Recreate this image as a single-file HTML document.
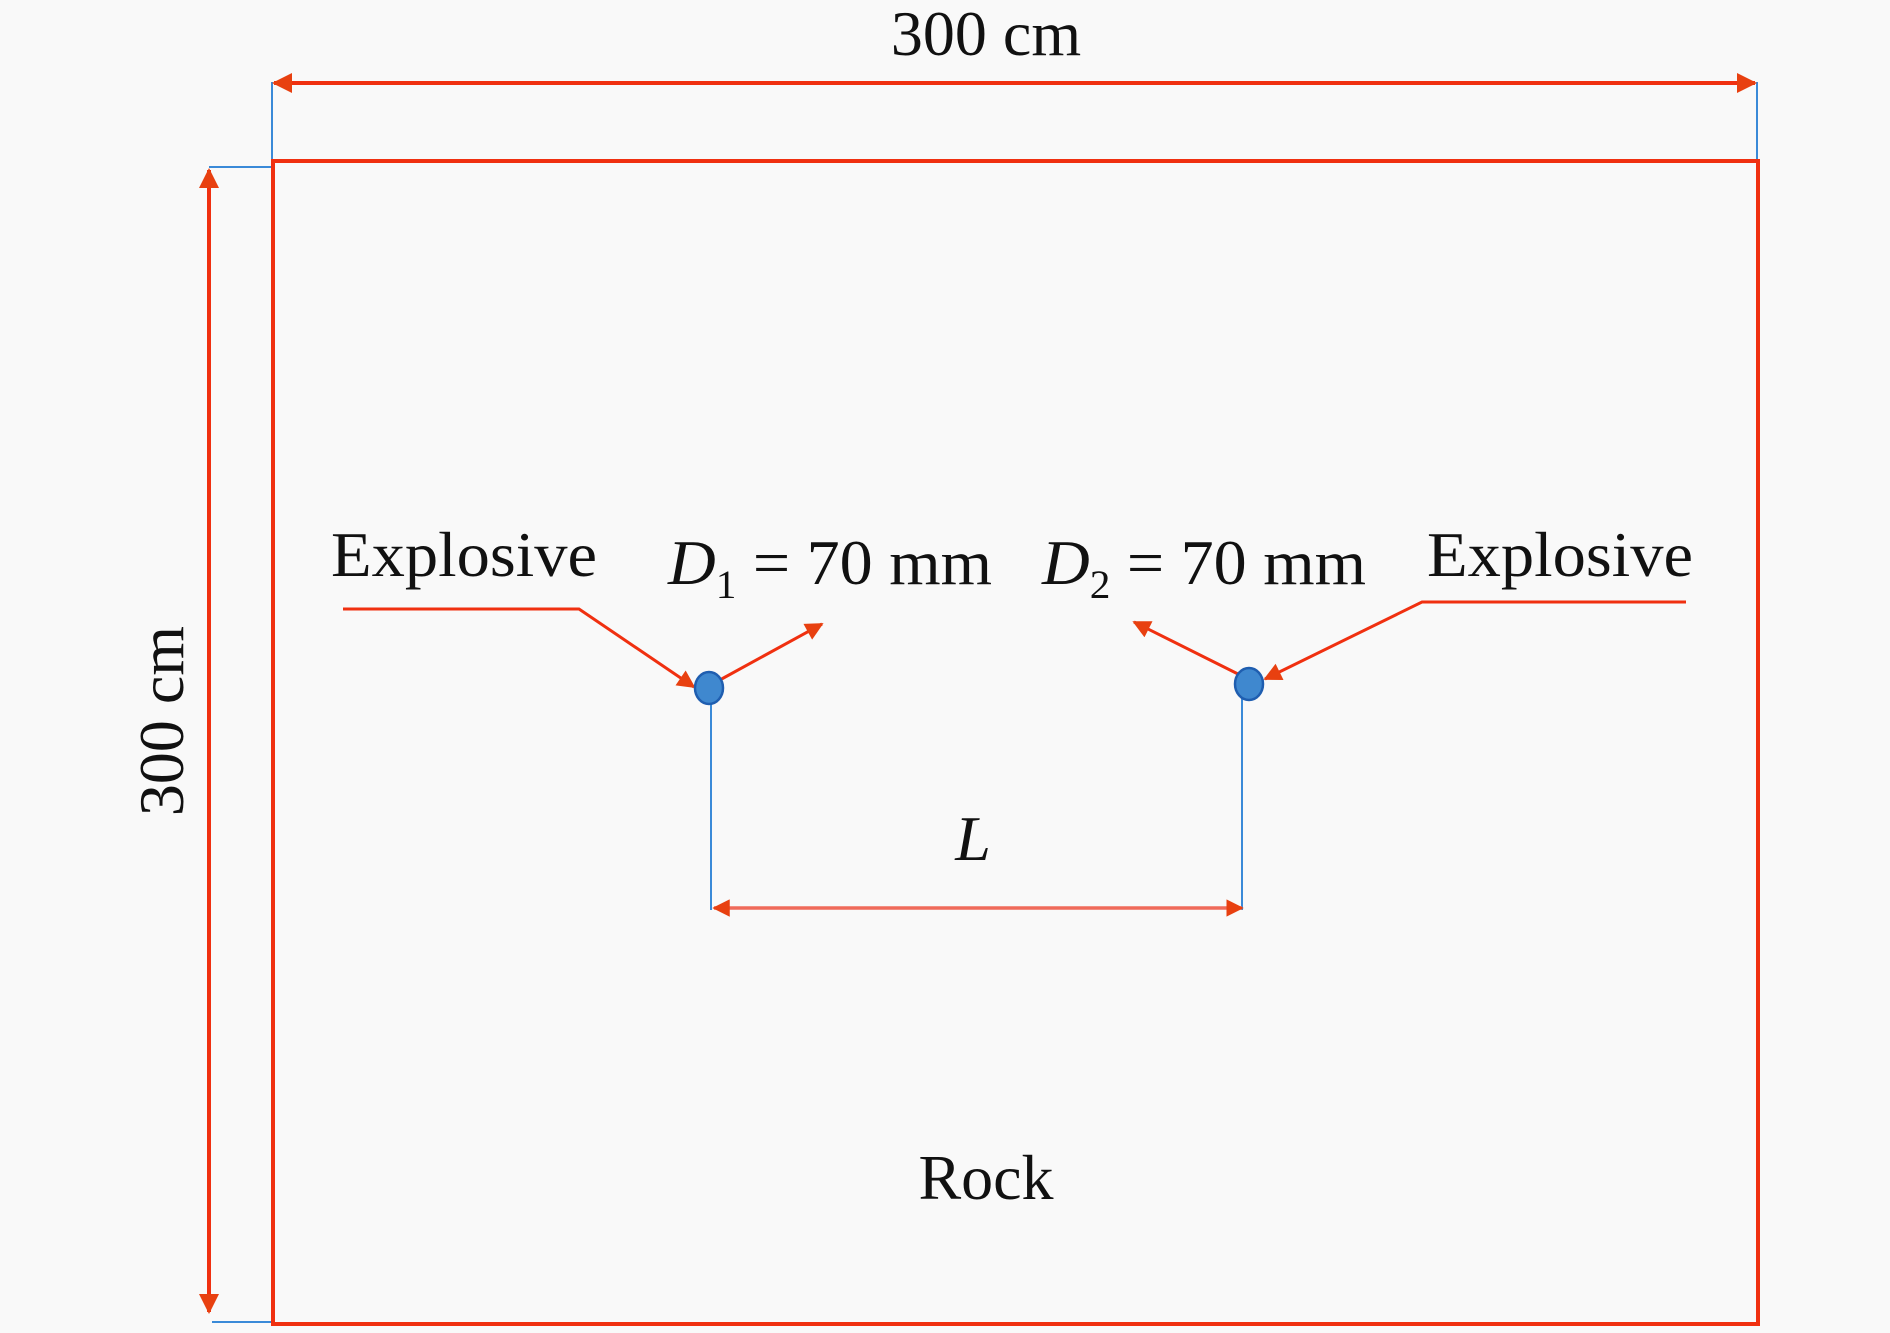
<!DOCTYPE html>
<html><head><meta charset="utf-8"><style>
html,body{margin:0;padding:0;background:#f9f9f9;}
svg{display:block;}
text{font-family:"Liberation Serif",serif;fill:#111;}
</style></head><body>
<svg width="1890" height="1333" viewBox="0 0 1890 1333" xmlns="http://www.w3.org/2000/svg">
<defs>
<marker id="ah" viewBox="0 0 10 10" refX="9" refY="5" markerWidth="5" markerHeight="5" orient="auto-start-reverse" markerUnits="strokeWidth">
<path d="M0,0 L10,5 L0,10 z" fill="#e84010"/>
</marker>
<marker id="ah2" viewBox="0 0 10 10" refX="9" refY="5" markerWidth="7" markerHeight="6" orient="auto-start-reverse" markerUnits="strokeWidth">
<path d="M0,0 L10,5 L0,10 z" fill="#e84010"/>
</marker>
</defs>
<rect width="1890" height="1333" fill="#f9f9f9"/>
<g stroke="#3a8ad8" stroke-width="2" fill="none">
<line x1="272" y1="82" x2="272" y2="160"/>
<line x1="1757" y1="82" x2="1757" y2="160"/>
<line x1="209" y1="167" x2="272" y2="167"/>
<line x1="212" y1="1322" x2="272" y2="1322"/>
<line x1="711" y1="700" x2="711" y2="910"/>
<line x1="1242" y1="698" x2="1242" y2="910"/>
</g>
<rect x="273" y="161" width="1485" height="1163" fill="none" stroke="#f03010" stroke-width="4"/>
<g stroke="#f03010" stroke-width="4" fill="none">
<line x1="274" y1="83" x2="1755" y2="83" marker-start="url(#ah)" marker-end="url(#ah)"/>
<line x1="209" y1="170" x2="209" y2="1312" marker-start="url(#ah)" marker-end="url(#ah)"/>
<line x1="714" y1="908" x2="1242" y2="908" stroke="#f06a5a" stroke-width="3.5" marker-start="url(#ah)" marker-end="url(#ah)"/>
<polyline points="343,609 579,609 694,687" stroke-width="3" marker-end="url(#ah2)"/>
<line x1="718" y1="681" x2="822" y2="624" stroke-width="3" marker-end="url(#ah2)"/>
<polyline points="1686,602 1422,602 1265,679" stroke-width="3" marker-end="url(#ah2)"/>
<line x1="1240" y1="675" x2="1134" y2="622" stroke-width="3" marker-end="url(#ah2)"/>
</g>
<ellipse cx="709" cy="688" rx="14" ry="16" fill="#3f88cf" stroke="#1f5eb0" stroke-width="2.5"/>
<ellipse cx="1249" cy="684" rx="14" ry="16" fill="#3f88cf" stroke="#1f5eb0" stroke-width="2.5"/>
<text x="986" y="55" font-size="64" text-anchor="middle">300 cm</text>
<text transform="translate(183,721) rotate(-90)" font-size="64" text-anchor="middle">300 cm</text>
<text x="331" y="576" font-size="64" textLength="266" lengthAdjust="spacingAndGlyphs">Explosive</text>
<text x="1427" y="576" font-size="64" textLength="266" lengthAdjust="spacingAndGlyphs">Explosive</text>
<text x="668" y="584" font-size="64" textLength="324" lengthAdjust="spacingAndGlyphs"><tspan font-style="italic">D</tspan><tspan font-size="40" dy="14">1</tspan><tspan dy="-14"> = 70 mm</tspan></text>
<text x="1042" y="584" font-size="64" textLength="324" lengthAdjust="spacingAndGlyphs"><tspan font-style="italic">D</tspan><tspan font-size="40" dy="14">2</tspan><tspan dy="-14"> = 70 mm</tspan></text>
<text x="973" y="860" font-size="64" font-style="italic" text-anchor="middle">L</text>
<text x="986" y="1199" font-size="64" text-anchor="middle">Rock</text>
</svg>
</body></html>
